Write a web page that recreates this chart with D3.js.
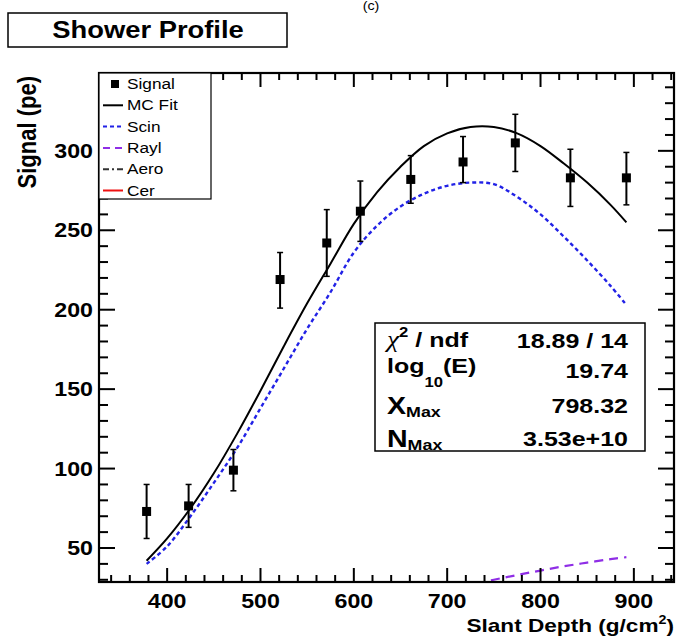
<!DOCTYPE html>
<html><head><meta charset="utf-8">
<script src="https://cdn.jsdelivr.net/npm/d3@7"></script>
<style>html,body{margin:0;padding:0;background:#fff;}svg{display:block;}</style>
</head><body>
<script>
// ---- data ----
const depth = [378, 423, 471, 521, 571, 607, 661, 717, 773, 832, 892];
const signal = [73, 76.5, 99, 219, 242, 262, 282, 293, 305, 283, 283];
const errLow = [56, 63, 86, 201, 221, 243, 267, 280, 287, 265, 266];
const errHigh = [90, 90, 112, 236, 263, 281, 297, 309, 323, 301, 299];

const fitDepth = [378, 400, 425, 450, 475, 500, 525, 550, 575, 600, 625, 650, 675, 700, 725, 750, 775, 800, 825, 850, 875, 892];
const mcFit = [42, 56, 75, 97, 122, 149, 177, 204, 229, 254, 274, 290, 303, 311, 315, 315, 311, 303, 292, 280, 266, 255];
const scin  = [40, 51, 70, 91, 113, 138, 163, 188, 211, 236, 253, 265, 273, 278, 280, 279, 271, 260, 246, 231, 215, 203];

const raylDepth = [700, 725, 750, 775, 800, 825, 850, 875, 892];
const rayl = [23, 26.5, 30, 33, 35.8, 38.5, 40.8, 43, 44.2];

const xTicks = [400, 500, 600, 700, 800, 900];
const yTicks = [50, 100, 150, 200, 250, 300];
const legendLabels = ["Signal", "MC Fit", "Scin", "Rayl", "Aero", "Cer"];
const statsLabels = ["χ2 / ndf", "log10(E)", "XMax", "NMax"];
const statsValues = ["18.89 / 14", "19.74", "798.32", "3.53e+10"];

// ---- layout ----
const W = 676, H = 637;
const SX = 1.19; // horizontal text stretch
const FONT = "'Liberation Sans', Arial, Helvetica, sans-serif";
const svg = d3.select("body").append("svg").attr("width", W).attr("height", H)
  .style("font-family", FONT);
svg.append("rect").attr("width", W).attr("height", H).attr("fill", "#fff");

const L = 99, R = 674, T = 73, B = 582;
const x = d3.scaleLinear().domain([327, 943]).range([L, R]);
const y = d3.scaleLinear().domain([28.6, 349]).range([B, T]);

function txt(g, px, py, s, size, weight, anchor) {
  return g.append("text").attr("transform", `translate(${px},${py}) scale(${SX},1)`)
    .attr("text-anchor", anchor || "start").attr("font-size", size)
    .attr("font-weight", weight || "normal").attr("fill", "#000").text(s);
}

// small "(c)" at very top
txt(svg, 371, 10, "(c)", 12, "normal", "middle");

// title box
svg.append("rect").attr("x", 8).attr("y", 13).attr("width", 279).attr("height", 34)
  .attr("fill", "#fff").attr("stroke", "#000").attr("stroke-width", 1.5);
txt(svg, 148, 38, "Shower Profile", 23, "bold", "middle");

// clip
svg.append("clipPath").attr("id", "clip").append("rect")
  .attr("x", L).attr("y", T).attr("width", R - L).attr("height", B - T);
const plot = svg.append("g").attr("clip-path", "url(#clip)");

// curves
const lineFit = d3.line().x((d) => x(d[0])).y((d) => y(d[1])).curve(d3.curveCatmullRom);
plot.append("path").datum(fitDepth.map((d, i) => [d, scin[i]])).attr("d", lineFit)
  .attr("fill", "none").attr("stroke", "#2222e6").attr("stroke-width", 2.4).attr("stroke-dasharray", "4,3");
plot.append("path").datum(raylDepth.map((d, i) => [d, rayl[i]])).attr("d", lineFit)
  .attr("fill", "none").attr("stroke", "#8f2ee6").attr("stroke-width", 2.2).attr("stroke-dasharray", "9,6");
plot.append("path").datum(fitDepth.map((d, i) => [d, mcFit[i]])).attr("d", lineFit)
  .attr("fill", "none").attr("stroke", "#000").attr("stroke-width", 2);

// signal points
const pts = plot.append("g");
depth.forEach((d, i) => {
  const cx = x(d);
  pts.append("line").attr("x1", cx).attr("x2", cx).attr("y1", y(errLow[i])).attr("y2", y(errHigh[i]))
    .attr("stroke", "#000").attr("stroke-width", 2);
  [errLow[i], errHigh[i]].forEach((v) => {
    pts.append("line").attr("x1", cx - 3).attr("x2", cx + 3).attr("y1", y(v)).attr("y2", y(v))
      .attr("stroke", "#000").attr("stroke-width", 1.5);
  });
  pts.append("rect").attr("x", cx - 4.5).attr("y", y(signal[i]) - 4.5).attr("width", 9).attr("height", 9).attr("fill", "#000");
});

// axes ticks (ROOT style: inside, all 4 sides)
const axG = svg.append("g").attr("stroke", "#000");
const xMinor = d3.range(340, 941, 20);
xMinor.forEach((v) => {
  const major = v % 100 === 0;
  const len = major ? 14 : 7;
  axG.append("line").attr("x1", x(v)).attr("x2", x(v)).attr("y1", B).attr("y2", B - len).attr("stroke-width", 2);
  axG.append("line").attr("x1", x(v)).attr("x2", x(v)).attr("y1", T).attr("y2", T + len).attr("stroke-width", 2);
});
const yMinor = d3.range(30, 349, 10);
yMinor.forEach((v) => {
  const major = v % 50 === 0;
  const len = major ? 16 : 9;
  axG.append("line").attr("x1", L).attr("x2", L + len).attr("y1", y(v)).attr("y2", y(v)).attr("stroke-width", 2);
  axG.append("line").attr("x1", R).attr("x2", R - len).attr("y1", y(v)).attr("y2", y(v)).attr("stroke-width", 2);
});
svg.append("rect").attr("x", L).attr("y", T).attr("width", R - L).attr("height", B - T)
  .attr("fill", "none").attr("stroke", "#000").attr("stroke-width", 2.2);

// tick labels
xTicks.forEach((v) => txt(svg, x(v), 608, String(v), 19.5, "bold", "middle"));
yTicks.forEach((v) => txt(svg, 93, y(v) + 7, String(v), 19.5, "bold", "end"));

// axis titles
const xt = svg.append("text").attr("transform", `translate(674,632) scale(${SX},1)`)
  .attr("text-anchor", "end").attr("font-size", 19).attr("font-weight", "bold");
xt.append("tspan").text("Slant Depth (g/cm");
xt.append("tspan").attr("font-size", 12).attr("dy", -8).text("2");
xt.append("tspan").attr("dy", 8).text(")");

svg.append("text").attr("transform", `translate(36,76) scale(${SX},1) rotate(-90)`)
  .attr("text-anchor", "end").attr("font-size", 22).attr("font-weight", "bold").text("Signal (pe)");

// legend
const lg = svg.append("g");
lg.append("rect").attr("x", 99).attr("y", 73).attr("width", 112).attr("height", 126)
  .attr("fill", "#fff").attr("stroke", "#000").attr("stroke-width", 1.2);
const rowY = (i) => 84 + i * 21.3;
const legStyles = [
  null,
  { c: "#000", dash: null },
  { c: "#2222e6", dash: "4,3" },
  { c: "#8f2ee6", dash: "7,5" },
  { c: "#333", dash: "6,3,2,3" },
  { c: "#ee1111", dash: null },
];
legendLabels.forEach((lab, i) => {
  const cy = rowY(i);
  if (i === 0) {
    lg.append("rect").attr("x", 111).attr("y", cy - 4).attr("width", 8).attr("height", 8).attr("fill", "#000");
  } else {
    const s = legStyles[i];
    lg.append("line").attr("x1", 103).attr("x2", 123).attr("y1", cy).attr("y2", cy)
      .attr("stroke", s.c).attr("stroke-width", 2).attr("stroke-dasharray", s.dash);
  }
  txt(lg, 127, cy + 5, lab, 14.5, "normal", "start");
});

// stats box
const st = svg.append("g");
st.append("rect").attr("x", 375).attr("y", 323).attr("width", 270).attr("height", 128)
  .attr("fill", "#fff").attr("stroke", "#000").attr("stroke-width", 1.5);
const valY = [348, 378, 413, 446];
statsValues.forEach((v, i) => txt(st, 628, valY[i], v, 21, "bold", "end"));
// labels with super/subscripts
let t = st.append("text").attr("transform", `translate(387,347) scale(${SX},1)`).attr("font-size", 21).attr("font-weight", "bold");
t.append("tspan").attr("font-family", "'Liberation Serif', 'DejaVu Serif', serif").attr("font-style", "italic").attr("font-weight", "normal").attr("font-size", 23).text(statsLabels[0].slice(0, 1));
t.append("tspan").attr("font-size", 14).attr("dy", -10).text(statsLabels[0].slice(1, 2));
t.append("tspan").attr("dy", 10).text(statsLabels[0].slice(2));

t = st.append("text").attr("transform", `translate(387,373) scale(${SX},1)`).attr("font-size", 21).attr("font-weight", "bold");
t.append("tspan").text(statsLabels[1].slice(0, 3));
t.append("tspan").attr("font-size", 14).attr("dy", 14).text(statsLabels[1].slice(3, 5));
t.append("tspan").attr("dy", -14).text(statsLabels[1].slice(5));

[2, 3].forEach((k, j) => {
  const by = j === 0 ? 414 : 447;
  const tt = st.append("text").attr("transform", `translate(387,${by}) scale(${SX},1)`).attr("font-size", 24).attr("font-weight", "bold");
  tt.append("tspan").text(statsLabels[k].slice(0, 1));
  tt.append("tspan").attr("font-size", 15).attr("dy", 3).text(statsLabels[k].slice(1));
});
</script>
</body></html>
